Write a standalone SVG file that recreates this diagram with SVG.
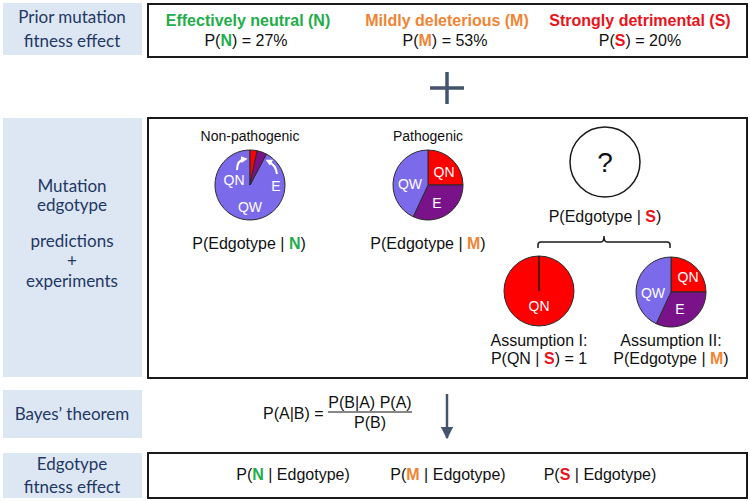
<svg xmlns="http://www.w3.org/2000/svg" width="750" height="501" viewBox="0 0 750 501">
<defs>
<style>
.lbl{fill:#dde7f3}
.lt{font-family:Lato,"Liberation Sans",sans-serif;font-size:17px;fill:#1f3864;text-anchor:middle}
.box{fill:#fff;stroke:#1a1a1a;stroke-width:2}
.t{font-family:"Liberation Sans",Arial,sans-serif;font-size:16px;fill:#111;text-anchor:middle}
.s{font-size:14px}
.b{font-weight:bold}
.g{fill:#22ad4a}
.o{fill:#ef8534}
.r{fill:#e8131b}
.w{fill:#fff;font-family:"Liberation Sans",Arial,sans-serif;font-size:14px;text-anchor:middle}
.qw{fill:#7b6aea;stroke:#2a2a2a;stroke-width:1}
.e{fill:#7a1389;stroke:#2a2a2a;stroke-width:1}
.qn{fill:#ff0000;stroke:#2a2a2a;stroke-width:1}
.sl{stroke:#44546a;fill:none}
.wa{stroke:#fff;stroke-width:2;fill:none}
</style>
<marker id="ah" viewBox="0 0 10 10" refX="9" refY="5" markerWidth="5" markerHeight="5" orient="auto"><path d="M0,0 L10,5 L0,10 z" fill="#44546a"/></marker>
<marker id="wh" viewBox="0 0 10 10" refX="6" refY="5" markerWidth="3.4" markerHeight="3.4" orient="auto"><path d="M0,0 L10,5 L0,10 z" fill="#fff"/></marker>
</defs>

<g id="label-prior">
<rect class="lbl" x="3" y="3" width="139" height="52"/>
<text class="lt" x="72" y="23">Prior mutation</text>
<text class="lt" x="72" y="47">fitness effect</text>
</g>
<g id="label-edgotype">
<rect class="lbl" x="3" y="118" width="139" height="259"/>
<text class="lt" x="72" y="192">Mutation</text>
<text class="lt" x="72" y="211">edgotype</text>
<text class="lt" x="72" y="247">predictions</text>
<text class="lt" x="72" y="267">+</text>
<text class="lt" x="72" y="287">experiments</text>
</g>
<g id="label-bayes">
<rect class="lbl" x="3" y="390" width="139" height="48"/>
<text class="lt" x="72" y="420">Bayes’ theorem</text>
</g>
<g id="label-fitness">
<rect class="lbl" x="3" y="453" width="139" height="45"/>
<text class="lt" x="72" y="470">Edgotype</text>
<text class="lt" x="72" y="493">fitness effect</text>
</g>

<g id="prior-box">
<rect class="box" x="148" y="4" width="599" height="53"/>
<text class="t b g" x="248" y="26">Effectively neutral (N)</text>
<text class="t" x="246" y="46">P(<tspan class="b g">N</tspan>) = 27%</text>
<text class="t b o" x="447" y="26">Mildly deleterious (M)</text>
<text class="t" x="445" y="46">P(<tspan class="b o">M</tspan>) = 53%</text>
<text class="t b r" x="640" y="26">Strongly detrimental (S)</text>
<text class="t" x="640" y="46">P(<tspan class="b r">S</tspan>) = 20%</text>
</g>

<g id="plus">
<path class="sl" stroke-width="3.5" d="M430,88 H464 M447,72 V104"/>
</g>

<g id="edgotype-box">
<rect class="box" x="148" y="118" width="599" height="260"/>
</g>

<g id="pie-nonpathogenic">
<text class="t s" x="250" y="141">Non-pathogenic</text>
<path class="qw" d="M250,185 L266.43,154.1 A35,35 0 1 1 250,150 Z"/>
<path class="qn" d="M250,185 L250,150 A35,35 0 0 1 257.28,150.77 Z"/>
<path class="e" d="M250,185 L257.28,150.77 A35,35 0 0 1 266.43,154.1 Z"/>
<path class="wa" marker-end="url(#wh)" d="M237,170 Q237,160 245,159"/>
<path class="wa" marker-end="url(#wh)" d="M277,174 Q276,165 268,161"/>
<text class="w" x="234" y="185">QN</text>
<text class="w" x="276" y="191">E</text>
<text class="w" x="250" y="212">QW</text>
<text class="t" x="249" y="249">P(Edgotype | <tspan class="b g">N</tspan>)</text>
</g>

<g id="pie-pathogenic">
<text class="t s" x="428" y="141">Pathogenic</text>
<path class="qn" d="M428,185 L428,150 A35,35 0 0 1 463,185 Z"/>
<path class="e" d="M428,185 L463,185 A35,35 0 0 1 413.21,216.72 Z"/>
<path class="qw" d="M428,185 L413.21,216.72 A35,35 0 0 1 428,150 Z"/>
<text class="w" x="444" y="177">QN</text>
<text class="w" x="437" y="208">E</text>
<text class="w" x="410" y="189">QW</text>
<text class="t" x="428" y="249">P(Edgotype | <tspan class="b o">M</tspan>)</text>
</g>

<g id="pie-unknown">
<circle cx="605" cy="162" r="35" fill="#fff" stroke="#1a1a1a" stroke-width="1.5"/>
<text class="t" x="605" y="172" style="font-size:28px">?</text>
<text class="t" x="605" y="222">P(Edgotype | <tspan class="b r">S</tspan>)</text>
</g>

<g id="brace">
<path d="M538,248 V245 Q538,242 541,242 H601 Q604,242 604,236 Q604,242 607,242 H667 Q670,242 670,245 V248" fill="none" stroke="#1a1a1a" stroke-width="1.5"/>
</g>

<g id="pie-assumption1">
<circle class="qn" cx="539" cy="291" r="35"/>
<path d="M539,291 V256" stroke="#1a1a1a" stroke-width="1.5"/>
<text class="w" x="539" y="311">QN</text>
<text class="t" x="539" y="346">Assumption I:</text>
<text class="t" x="539" y="364">P(QN | <tspan class="b r">S</tspan>) = 1</text>
</g>

<g id="pie-assumption2">
<path class="qn" d="M671,292 L671,257 A35,35 0 0 1 706,292 Z"/>
<path class="e" d="M671,292 L706,292 A35,35 0 0 1 656.21,323.72 Z"/>
<path class="qw" d="M671,292 L656.21,323.72 A35,35 0 0 1 671,257 Z"/>
<text class="w" x="688" y="282">QN</text>
<text class="w" x="680" y="314">E</text>
<text class="w" x="653" y="298">QW</text>
<text class="t" x="671" y="346">Assumption II:</text>
<text class="t" x="671" y="364">P(Edgotype | <tspan class="b o">M</tspan>)</text>
</g>

<g id="bayes">
<text class="t" x="263" y="419" style="text-anchor:start">P(A|B) =</text>
<text class="t" x="370" y="408">P(B|A) P(A)</text>
<path d="M328,412 H412" stroke="#111" stroke-width="1"/>
<text class="t" x="370" y="428">P(B)</text>
</g>

<g id="connectors">
<path class="sl" stroke-width="2.5" marker-end="url(#ah)" d="M447,394 V438"/>
</g>

<g id="fitness-box">
<rect class="box" x="148" y="453" width="599" height="45"/>
<text class="t" x="293" y="480">P(<tspan class="b g">N</tspan> | Edgotype)</text>
<text class="t" x="448" y="480">P(<tspan class="b o">M</tspan> | Edgotype)</text>
<text class="t" x="600" y="480">P(<tspan class="b r">S</tspan> | Edgotype)</text>
</g>
</svg>
